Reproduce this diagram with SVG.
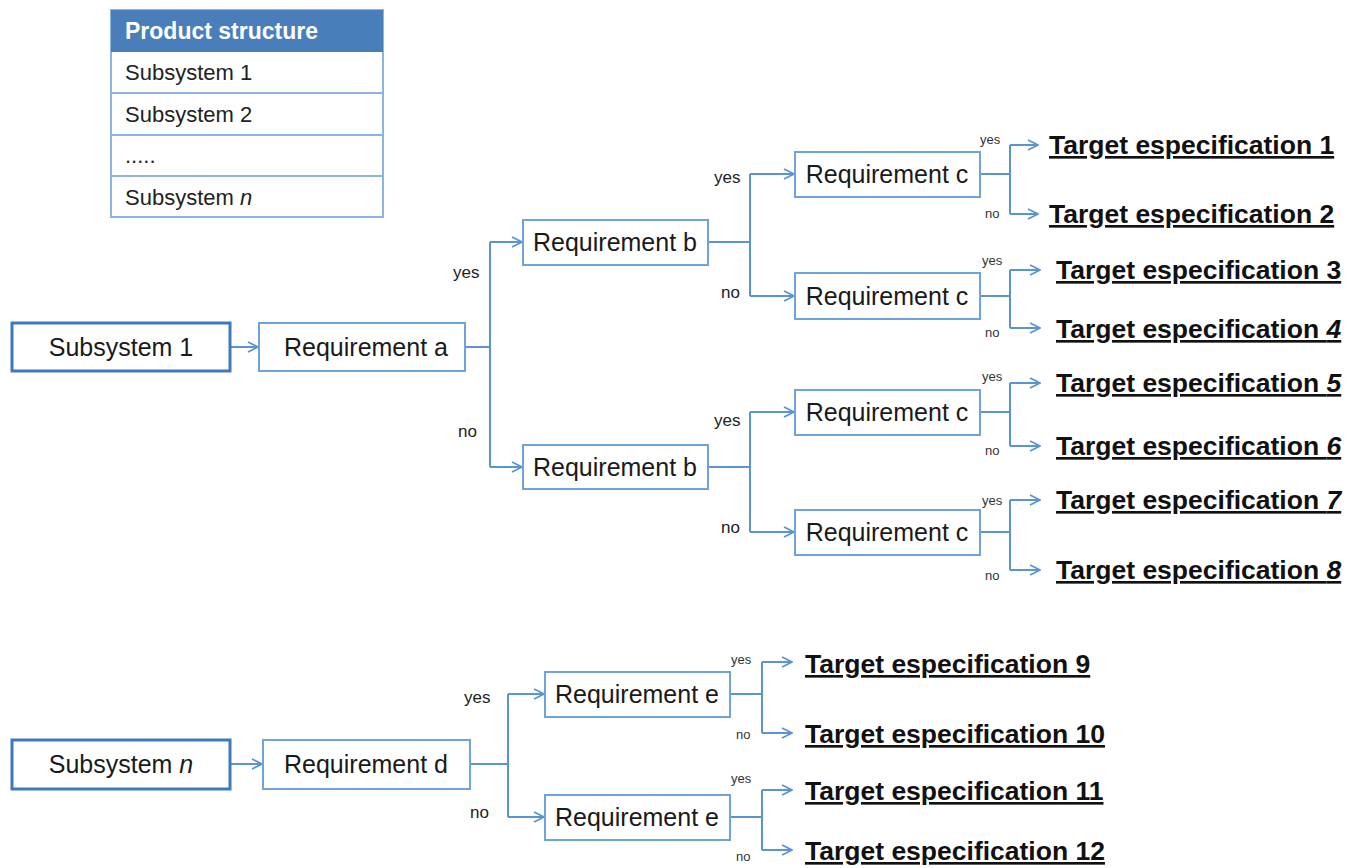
<svg xmlns="http://www.w3.org/2000/svg" width="1354" height="868" viewBox="0 0 1354 868">
<defs>
<marker id="arr" viewBox="0 0 12 12" refX="11" refY="6" markerWidth="12" markerHeight="12" markerUnits="userSpaceOnUse" orient="auto">
<path d="M1,1 L11,6 L1,11" fill="none" stroke="#5b93d3" stroke-width="1.8"/>
</marker>
<style>
.box{fill:#fff;stroke:#6fa3dc;stroke-width:2}
.sub{fill:#fff;stroke:#3f78c2;stroke-width:3}
.t{font-family:"Liberation Sans",Arial,sans-serif;font-size:25px;fill:#1a1a1a;text-anchor:middle}
.tgt{font-family:"Liberation Sans",Arial,sans-serif;font-size:26.5px;font-weight:bold;fill:#111;text-decoration:underline}
.lbl{font-family:"Liberation Sans",Arial,sans-serif;font-size:17px;fill:#222}
.sl{font-family:"Liberation Sans",Arial,sans-serif;font-size:13px;fill:#333}
.c{fill:none;stroke:#5b93d3;stroke-width:2}
.tb{font-family:"Liberation Sans",Arial,sans-serif;font-size:22px;fill:#222}
</style>
</defs>
<rect width="1354" height="868" fill="#fff"/>

<g id="table">
<rect x="111" y="10" width="272" height="207" fill="#fff" stroke="#8db3e2" stroke-width="2"/>
<rect x="111" y="10" width="272" height="42" fill="#4a7ebb"/>
<line x1="111" y1="93" x2="383" y2="93" stroke="#8db3e2" stroke-width="2"/>
<line x1="111" y1="135" x2="383" y2="135" stroke="#8db3e2" stroke-width="2"/>
<line x1="111" y1="176" x2="383" y2="176" stroke="#8db3e2" stroke-width="2"/>
<text x="125" y="39" font-family="'Liberation Sans',Arial,sans-serif" font-size="23" font-weight="bold" fill="#fff">Product structure</text>
<text class="tb" x="125" y="80">Subsystem 1</text>
<text class="tb" x="125" y="122">Subsystem 2</text>
<text class="tb" x="125" y="163" fill="#999" font-size="14">.....</text>
<text class="tb" x="125" y="205">Subsystem <tspan font-style="italic">n</tspan></text>
</g>

<g id="connectors">
<line class="c" x1="230" y1="347" x2="258" y2="347" marker-end="url(#arr)"/>
<path class="c" d="M465,347 H490 M490,242 V467"/>
<line class="c" x1="490" y1="242" x2="522" y2="242" marker-end="url(#arr)"/>
<line class="c" x1="490" y1="467" x2="522" y2="467" marker-end="url(#arr)"/>
<path class="c" d="M708,242 H750 M750,174 V296"/>
<line class="c" x1="750" y1="174" x2="794" y2="174" marker-end="url(#arr)"/>
<line class="c" x1="750" y1="296" x2="794" y2="296" marker-end="url(#arr)"/>
<path class="c" d="M708,467 H750 M750,412 V532"/>
<line class="c" x1="750" y1="412" x2="794" y2="412" marker-end="url(#arr)"/>
<line class="c" x1="750" y1="532" x2="794" y2="532" marker-end="url(#arr)"/>
<path class="c" d="M980,174 H1010 M1010,145 V214"/>
<line class="c" x1="1010" y1="145" x2="1038" y2="145" marker-end="url(#arr)"/>
<line class="c" x1="1010" y1="214" x2="1038" y2="214" marker-end="url(#arr)"/>
<path class="c" d="M980,296 H1010 M1010,270 V328"/>
<line class="c" x1="1010" y1="270" x2="1040" y2="270" marker-end="url(#arr)"/>
<line class="c" x1="1010" y1="328" x2="1040" y2="328" marker-end="url(#arr)"/>
<path class="c" d="M980,412 H1010 M1010,383 V446"/>
<line class="c" x1="1010" y1="383" x2="1040" y2="383" marker-end="url(#arr)"/>
<line class="c" x1="1010" y1="446" x2="1040" y2="446" marker-end="url(#arr)"/>
<path class="c" d="M980,532 H1010 M1010,500 V570"/>
<line class="c" x1="1010" y1="500" x2="1040" y2="500" marker-end="url(#arr)"/>
<line class="c" x1="1010" y1="570" x2="1040" y2="570" marker-end="url(#arr)"/>
<line class="c" x1="230" y1="764" x2="262" y2="764" marker-end="url(#arr)"/>
<path class="c" d="M470,764 H508 M508,694 V817"/>
<line class="c" x1="508" y1="694" x2="544" y2="694" marker-end="url(#arr)"/>
<line class="c" x1="508" y1="817" x2="544" y2="817" marker-end="url(#arr)"/>
<path class="c" d="M730,694 H762 M762,662 V733"/>
<line class="c" x1="762" y1="662" x2="792" y2="662" marker-end="url(#arr)"/>
<line class="c" x1="762" y1="733" x2="792" y2="733" marker-end="url(#arr)"/>
<path class="c" d="M730,817 H762 M762,790 V850"/>
<line class="c" x1="762" y1="790" x2="792" y2="790" marker-end="url(#arr)"/>
<line class="c" x1="762" y1="850" x2="792" y2="850" marker-end="url(#arr)"/>
</g>

<g id="labels">
<text class="lbl" x="453" y="278">yes</text>
<text class="lbl" x="458" y="437">no</text>
<text class="lbl" x="714" y="183">yes</text>
<text class="lbl" x="721" y="298">no</text>
<text class="lbl" x="714" y="426">yes</text>
<text class="lbl" x="721" y="533">no</text>
<text class="lbl" x="464" y="703">yes</text>
<text class="lbl" x="470" y="818">no</text>
<text class="sl" x="980" y="144">yes</text>
<text class="sl" x="985" y="218">no</text>
<text class="sl" x="982" y="265">yes</text>
<text class="sl" x="985" y="337">no</text>
<text class="sl" x="982" y="381">yes</text>
<text class="sl" x="985" y="455">no</text>
<text class="sl" x="982" y="505">yes</text>
<text class="sl" x="985" y="580">no</text>
<text class="sl" x="731" y="664">yes</text>
<text class="sl" x="736" y="739">no</text>
<text class="sl" x="731" y="783">yes</text>
<text class="sl" x="736" y="861">no</text>
</g>

<g id="subsystem1"><rect class="sub" x="12" y="323" width="218" height="48"/><text class="t" x="121" y="356">Subsystem 1</text></g>
<g id="reqA"><rect class="box" x="259" y="323" width="206" height="48"/><text class="t" x="366" y="356">Requirement a</text></g>
<g id="reqB1"><rect class="box" x="523" y="220" width="185" height="45"/><text class="t" x="615" y="251">Requirement b</text></g>
<g id="reqB2"><rect class="box" x="523" y="445" width="185" height="44"/><text class="t" x="615" y="476">Requirement b</text></g>
<g id="reqC1"><rect class="box" x="795" y="152" width="185" height="45"/><text class="t" x="887" y="183">Requirement c</text></g>
<g id="reqC2"><rect class="box" x="795" y="273" width="185" height="46"/><text class="t" x="887" y="305">Requirement c</text></g>
<g id="reqC3"><rect class="box" x="795" y="390" width="185" height="45"/><text class="t" x="887" y="421">Requirement c</text></g>
<g id="reqC4"><rect class="box" x="795" y="510" width="185" height="45"/><text class="t" x="887" y="541">Requirement c</text></g>

<g id="t1"><text class="tgt" x="1049" y="154">Target especification 1</text></g>
<g id="t2"><text class="tgt" x="1049" y="223">Target especification 2</text></g>
<g id="t3"><text class="tgt" x="1056" y="279">Target especification 3</text></g>
<g id="t4"><text class="tgt" x="1056" y="338">Target especification <tspan font-style="italic">4</tspan></text></g>
<g id="t5"><text class="tgt" x="1056" y="392">Target especification <tspan font-style="italic">5</tspan></text></g>
<g id="t6"><text class="tgt" x="1056" y="455">Target especification <tspan font-style="italic">6</tspan></text></g>
<g id="t7"><text class="tgt" x="1056" y="509">Target especification <tspan font-style="italic">7</tspan></text></g>
<g id="t8"><text class="tgt" x="1056" y="579">Target especification <tspan font-style="italic">8</tspan></text></g>

<g id="subsystemN"><rect class="sub" x="12" y="740" width="218" height="49"/><text class="t" x="121" y="773">Subsystem <tspan font-style="italic">n</tspan></text></g>
<g id="reqD"><rect class="box" x="263" y="740" width="207" height="49"/><text class="t" x="366" y="773">Requirement d</text></g>
<g id="reqE1"><rect class="box" x="545" y="672" width="185" height="45"/><text class="t" x="637" y="703">Requirement e</text></g>
<g id="reqE2"><rect class="box" x="545" y="795" width="185" height="45"/><text class="t" x="637" y="826">Requirement e</text></g>

<g id="t9"><text class="tgt" x="805" y="673">Target especification 9</text></g>
<g id="t10"><text class="tgt" x="805" y="743">Target especification 10</text></g>
<g id="t11"><text class="tgt" x="805" y="800">Target especification 11</text></g>
<g id="t12"><text class="tgt" x="805" y="860">Target especification 12</text></g>
</svg>
